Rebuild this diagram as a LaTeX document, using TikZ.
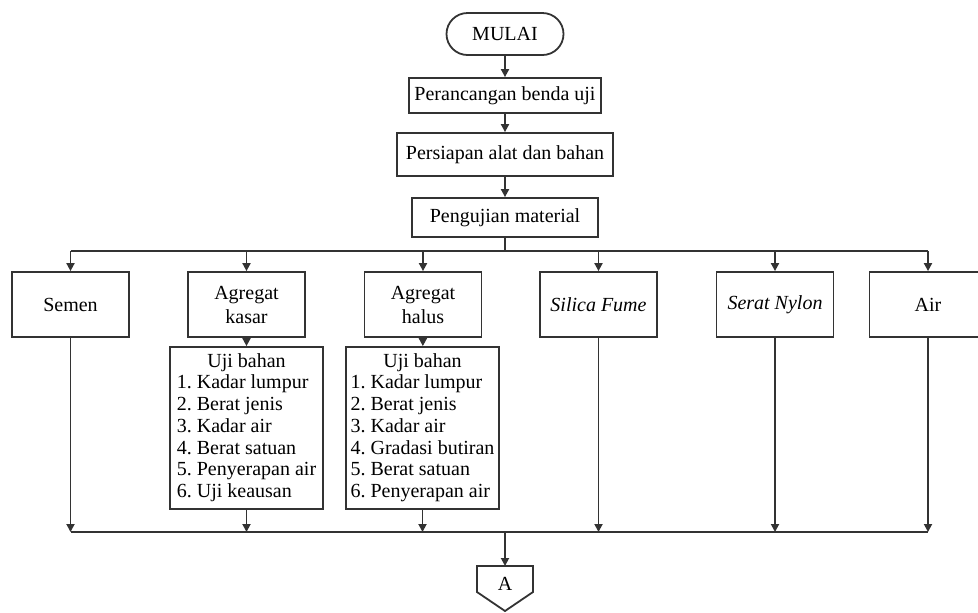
\documentclass[tikz,border=0pt]{standalone}
\usepackage{fontspec}
\setmainfont{Liberation Serif}
\usetikzlibrary{arrows.meta}
\frenchspacing
\newcommand{\ujilist}[1]{\begin{tabular}{@{}l@{}}\multicolumn{1}{@{}c@{}}{Uji bahan}\\#1\end{tabular}}
\begin{document}
\begin{tikzpicture}[x=0.5pt,y=-0.5pt,
  line width=0.9pt, draw=black!80,
  >={Triangle[length=4pt,width=4pt]},
  font=\fontsize{10}{12}\selectfont,
  box/.style={draw=black!80, rectangle, inner sep=1pt, align=center},
  rowbox/.style={box, minimum width=58.5pt, minimum height=32.5pt},
  listbox/.style={box, minimum width=76.5pt, minimum height=81pt,
    font=\fontsize{10}{10.85}\selectfont},
  term/.style={box, minimum width=58.5pt, minimum height=21pt, rounded corners=10.5pt}]
\useasboundingbox (0,0) rectangle (978,612);
% Top chain
\node[term] (mulai) at (505,34) {MULAI};
\node[box, minimum width=96pt, minimum height=17.5pt] (rancang) at (505,95.5) {Perancangan benda uji};
\node[box, minimum width=108pt, minimum height=21.5pt] (siap) at (505,154.5) {Persiapan alat dan bahan};
\node[box, minimum width=93pt, minimum height=19.5pt] (uji) at (505,217.5) {Pengujian material};
\draw[->] (mulai) -- (rancang);
\draw[->] (rancang) -- (siap);
\draw[->] (siap) -- (uji);
% Materials
\node[rowbox] (semen) at (70.5,304.5) {Semen};
\node[rowbox] (kasar) at (246.5,304.5) {Agregat\\kasar};
\node[rowbox] (halus) at (423,304.5) {Agregat\\halus};
\node[rowbox] (silica) at (598.5,304.5) {\itshape Silica Fume};
\node[rowbox] (nylon) at (775,304.5) {\itshape Serat Nylon};
\node[rowbox] (air) at (928,304.5) {Air};
% Test lists
\node[listbox] (ujikasar) at (246.5,428) {\ujilist{1. Kadar lumpur\\ 2. Berat jenis\\
  3. Kadar air\\ 4. Berat satuan\\ 5. Penyerapan air\\ 6. Uji keausan}};
\node[listbox] (ujihalus) at (422.5,428) {\ujilist{1. Kadar lumpur\\ 2. Berat jenis\\
  3. Kadar air\\ 4. Gradasi butiran\\ 5. Berat satuan\\ 6. Penyerapan air}};
\draw[->] (kasar) -- (ujikasar);
\draw[->] (halus) -- (ujihalus);
% Upper bus
\coordinate (bustop) at (505,251);
\draw (uji) -- (bustop);
\draw (semen.north |- bustop) -- (air.north |- bustop);
\foreach \m in {semen,kasar,halus,silica,nylon,air}
  \draw[->] (\m.north |- bustop) -- (\m.north);
% Lower bus
\coordinate (busbot) at (505,532);
\draw (semen.south |- busbot) -- (air.south |- busbot);
\foreach \m in {semen,ujikasar,ujihalus,silica,nylon,air}
  \draw[->] (\m.south) -- (\m.south |- busbot);
% Off-page connector
\coordinate (atop) at (505,566);
\draw (477,566) -- (533,566) -- (533,592) -- (505,611) -- (477,592) -- cycle;
\node (a) at (505,584) {A};
\draw[->] (busbot) -- (atop);
\end{tikzpicture}
\end{document}
